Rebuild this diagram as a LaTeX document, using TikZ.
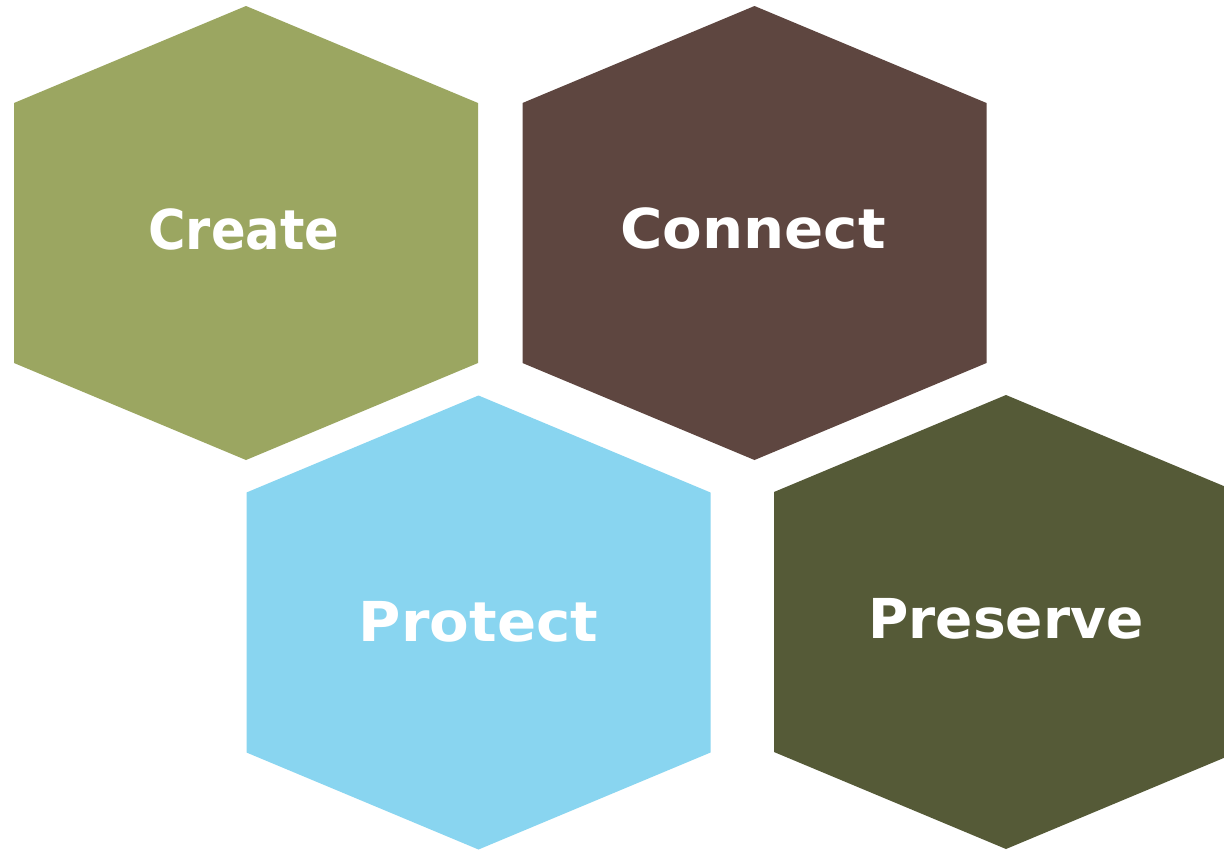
\documentclass[tikz,border=0pt]{standalone}
\usepackage{fontspec}
\setmainfont{DejaVu Sans}
\definecolor{createc}{HTML}{9BA661}
\definecolor{connectc}{HTML}{5E4640}
\definecolor{protectc}{HTML}{89D5F0}
\definecolor{preservec}{HTML}{555A37}
\tikzset{
  pics/hexa/.style={code={\fill[#1] (0,-227) -- (232,-130) -- (232,130) -- (0,227) -- (-232,130) -- (-232,-130) -- cycle;}},
  label/.style={text=white, font=\fontsize{55}{60}\selectfont\bfseries, anchor=base, inner sep=0pt}
}
\begin{document}
\begin{tikzpicture}[x=1pt,y=-1pt]
\useasboundingbox (0,0) rectangle (1224,852);
\fill[white] (0,0) rectangle (1224,852);
\pic (hc) at (246,233) {hexa=createc};
\pic (hn) at (754.5,233) {hexa=connectc};
\pic (hp) at (478.5,622.5) {hexa=protectc};
\pic (hs) at (1006,622) {hexa=preservec};
\node[label, xscale=0.93] (create) at (244,249) {Create};
\node[label, xscale=1.05] (connect) at (753,248) {Connect};
\node[label, xscale=1.05] (protect) at (478.5,641) {Protect};
\node[label] (preserve) at (1006,638) {Preserve};
\end{tikzpicture}
\end{document}
